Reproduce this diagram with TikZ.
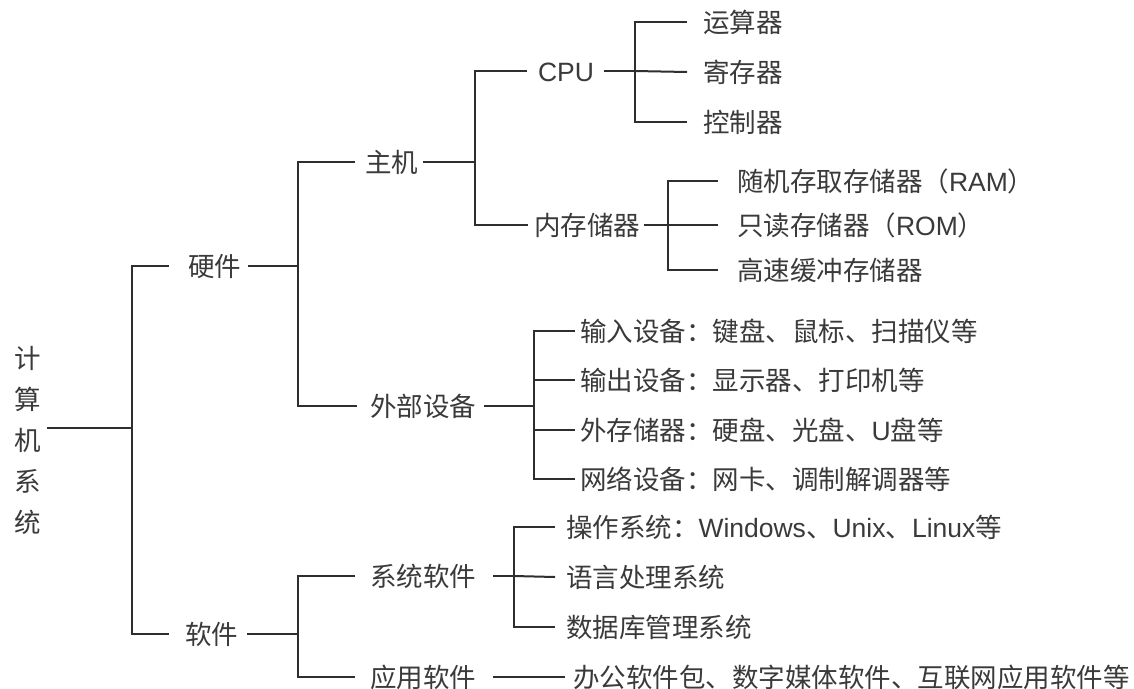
\documentclass[tikz,border=0pt]{standalone}
\usepackage{fontspec}
\setmainfont{Noto Sans CJK SC}
\newfontfamily\lat{Liberation Sans}
\definecolor{ink}{HTML}{3A3A3A}
\definecolor{lnc}{HTML}{2E2E2E}
\begin{document}
\begin{tikzpicture}[x=1pt,y=-1pt,
  lbl/.style={anchor=west,inner sep=0pt,outer sep=0pt,text height=22pt,text depth=2pt,
    font=\fontsize{26.5}{30}\selectfont,text=ink},
  ln/.style={draw=lnc,line width=2pt}]
\useasboundingbox[fill=white] (0,0) rectangle (1134,688);

% root
\node[inner sep=0pt,align=center,text=ink,font=\fontsize{26.5}{41}\selectfont] (root) at (28,440) {计\\算\\机\\系\\统};
\coordinate (b0) at (132,428);

% level 1
\node[lbl] (hw) at (188,266) {硬件};
\node[lbl] (sw) at (185,634) {软件};
\draw[ln] ([xshift=6pt]root.east |- b0) -- (b0);
\draw[ln] ([xshift=-19pt]hw.west) -| (b0) |- ([xshift=-16pt]sw.west);

% hardware
\coordinate (b1) at (298,266);
\node[lbl] (host) at (365,162) {主机};
\node[lbl] (ext) at (370,406) {外部设备};
\draw[ln] ([xshift=7pt]hw.east) -- (b1);
\draw[ln] ([xshift=-10pt]host.west) -| (b1) |- ([xshift=-13pt]ext.west);

% host
\coordinate (b2) at (475,162);
\node[lbl] (cpu) at (538,71) {\lat CPU};
\node[lbl] (mem) at (534,225) {内存储器};
\draw[ln] ([xshift=5pt]host.east) -- (b2);
\draw[ln] ([xshift=-11pt]cpu.west) -| (b2) |- ([xshift=-6pt]mem.west);

% cpu
\coordinate (b3) at (635,71);
\node[lbl] (alu) at (703,22) {运算器};
\node[lbl] (reg) at (703,72) {寄存器};
\node[lbl] (ctl) at (703,122) {控制器};
\draw[ln] ([xshift=10pt]cpu.east) -- (b3);
\draw[ln] ([xshift=-16pt]alu.west) -| (b3) |- ([xshift=-16pt]ctl.west);
\draw[ln] (b3) -- ([xshift=-16pt]reg.west);

% memory
\coordinate (b4) at (668,225);
\node[lbl] (ram) at (737,181) {随机存取存储器（{\lat RAM}）};
\node[lbl] (rom) at (737,225) {只读存储器（{\lat ROM}）};
\node[lbl] (cache) at (737,270) {高速缓冲存储器};
\draw[ln] ([xshift=4pt]mem.east) -- (b4);
\draw[ln] ([xshift=-19pt]ram.west) -| (b4) |- ([xshift=-19pt]cache.west);
\draw[ln] (b4) -- ([xshift=-19pt]rom.west);

% external devices
\coordinate (b5) at (534,406);
\node[lbl] (in) at (580,331) {输入设备：键盘、鼠标、扫描仪等};
\node[lbl] (out) at (580,380) {输出设备：显示器、打印机等};
\node[lbl] (sto) at (580,430) {外存储器：硬盘、光盘、{\lat U}盘等};
\node[lbl] (net) at (580,479) {网络设备：网卡、调制解调器等};
\draw[ln] ([xshift=8pt]ext.east) -- (b5);
\draw[ln] ([xshift=-5pt]in.west) -| (b5) |- ([xshift=-5pt]net.west);
\draw[ln] (b5 |- out.west) -- ([xshift=-5pt]out.west);
\draw[ln] (b5 |- sto.west) -- ([xshift=-5pt]sto.west);

% software
\coordinate (b6) at (298,634);
\node[lbl] (sys) at (370,576) {系统软件};
\node[lbl] (app) at (370,677) {应用软件};
\draw[ln] ([xshift=9pt]sw.east) -- (b6);
\draw[ln] ([xshift=-15pt]sys.west) -| (b6) |- ([xshift=-15pt]app.west);

% system software
\coordinate (b7) at (514,576);
\node[lbl] (os) at (566,527) {操作系统：{\lat Windows}、{\lat Unix}、{\lat Linux}等};
\node[lbl] (lang) at (566,577) {语言处理系统};
\node[lbl] (db) at (566,627) {数据库管理系统};
\draw[ln] ([xshift=17pt]sys.east) -- (b7);
\draw[ln] ([xshift=-11pt]os.west) -| (b7) |- ([xshift=-11pt]db.west);
\draw[ln] (b7) -- ([xshift=-11pt]lang.west);

% application software
\node[lbl] (apps) at (573,677) {办公软件包、数字媒体软件、互联网应用软件等};
\draw[ln] ([xshift=17pt]app.east) -- ([xshift=-8pt]apps.west);
\end{tikzpicture}
\end{document}
